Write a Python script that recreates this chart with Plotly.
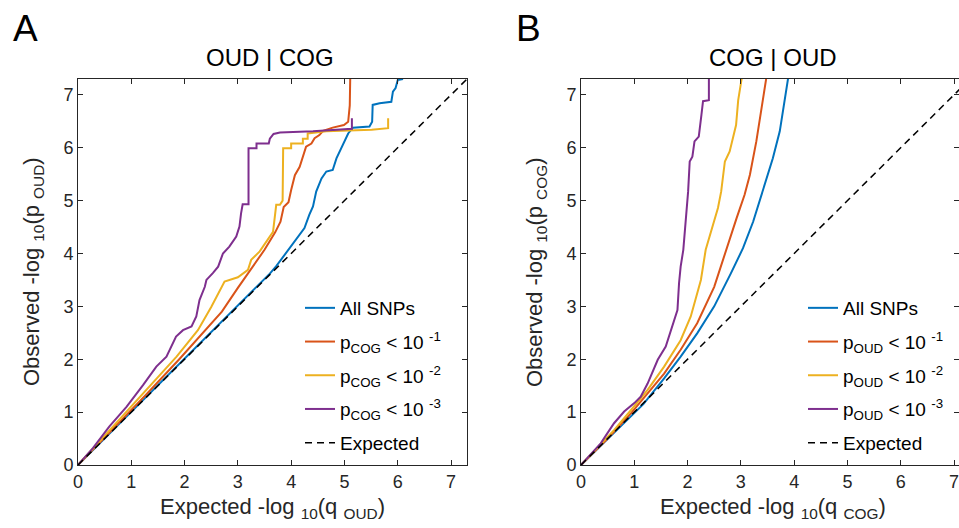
import plotly.graph_objects as go

# ---------------- data ----------------
# Panel A: OUD | COG
A_all_x = [0, 1.0, 2.0, 3.0, 3.6, 3.72, 3.97, 4.25, 4.34, 4.41, 4.47, 4.57, 4.66, 4.78, 4.85, 4.97, 5.07, 5.16, 5.47, 5.52, 5.53, 5.66, 5.88, 5.91, 5.96, 6.00, 6.10]
A_all_y = [0, 1.0, 2.0, 3.0, 3.62, 3.76, 4.10, 4.48, 4.73, 4.89, 5.17, 5.42, 5.55, 5.58, 5.80, 6.05, 6.27, 6.38, 6.40, 6.49, 6.81, 6.84, 6.87, 7.06, 7.13, 7.28, 7.30]

A_p1_x = [0, 0.6, 1.25, 1.9, 2.5, 2.7, 3.0, 3.28, 3.5, 3.7, 3.8, 3.86, 3.95, 4.0, 4.07, 4.16, 4.25, 4.28, 4.38, 4.44, 4.53, 4.6, 4.78, 4.99, 5.07, 5.10, 5.11]
A_p1_y = [0, 0.62, 1.3, 2.0, 2.68, 2.9, 3.35, 3.75, 4.07, 4.4, 4.6, 4.88, 4.97, 5.2, 5.48, 5.64, 5.93, 6.02, 6.08, 6.18, 6.24, 6.32, 6.38, 6.43, 6.49, 6.8, 7.4]

A_p2_x = [0, 0.6, 1.22, 1.85, 2.25, 2.5, 2.75, 3.0, 3.19, 3.25, 3.41, 3.56, 3.66, 3.72, 3.79, 3.84, 3.85, 4.0, 4.0, 4.22, 4.22, 4.31, 4.31, 4.66, 5.28, 5.51, 5.82, 5.82]
A_p2_y = [0, 0.66, 1.36, 2.05, 2.55, 2.99, 3.47, 3.55, 3.69, 3.88, 4.04, 4.26, 4.41, 4.92, 4.92, 5.0, 5.99, 5.99, 6.08, 6.08, 6.17, 6.17, 6.27, 6.31, 6.34, 6.34, 6.37, 6.56]

A_p3_x = [0, 0.28, 0.59, 0.91, 1.22, 1.47, 1.66, 1.84, 1.97, 2.13, 2.22, 2.28, 2.38, 2.41, 2.53, 2.63, 2.72, 2.84, 2.97, 3.03, 3.06, 3.09, 3.20, 3.20, 3.35, 3.35, 3.58, 3.60, 3.67, 3.79, 4.41, 5.14, 5.14]
A_p3_y = [0, 0.32, 0.73, 1.10, 1.51, 1.86, 2.05, 2.43, 2.55, 2.62, 2.81, 3.12, 3.37, 3.50, 3.63, 3.75, 4.00, 4.13, 4.32, 4.51, 4.76, 4.93, 4.93, 5.99, 5.99, 6.08, 6.08, 6.17, 6.26, 6.29, 6.31, 6.36, 6.56]

# Panel B: COG | OUD
B_all_x = [0, 0.54, 1.17, 1.56, 1.87, 2.18, 2.50, 2.81, 3.04, 3.23, 3.41, 3.60, 3.73, 3.82, 3.88, 3.90]
B_all_y = [0, 0.54, 1.15, 1.64, 2.05, 2.49, 3.0, 3.62, 4.10, 4.60, 5.17, 5.80, 6.31, 6.87, 7.3, 7.4]

B_p1_x = [0, 0.5, 0.94, 1.25, 1.56, 1.87, 2.18, 2.50, 2.73, 2.92, 3.07, 3.17, 3.29, 3.38, 3.45, 3.48, 3.49]
B_p1_y = [0, 0.5, 0.98, 1.36, 1.73, 2.18, 2.68, 3.37, 4.10, 4.67, 5.11, 5.49, 6.12, 6.68, 7.06, 7.3, 7.4]

B_p2_x = [0, 0.62, 0.94, 1.25, 1.56, 1.87, 2.06, 2.25, 2.34, 2.42, 2.57, 2.63, 2.70, 2.79, 2.91, 2.95, 2.98, 3.03]
B_p2_y = [0, 0.66, 1.04, 1.42, 1.86, 2.36, 2.81, 3.50, 4.07, 4.35, 4.86, 5.17, 5.74, 5.93, 6.43, 6.9, 7.12, 7.4]

B_p3_x = [0, 0.37, 0.62, 0.81, 1.0, 1.12, 1.25, 1.44, 1.59, 1.69, 1.75, 1.81, 1.84, 1.87, 1.92, 1.98, 2.01, 2.04, 2.09, 2.13, 2.21, 2.26, 2.29, 2.40, 2.40]
B_p3_y = [0, 0.41, 0.79, 1.01, 1.17, 1.29, 1.54, 1.99, 2.24, 2.55, 2.77, 2.93, 3.44, 3.75, 4.07, 4.73, 5.17, 5.74, 5.83, 6.12, 6.21, 6.62, 6.88, 6.90, 7.4]

expected_x = [0, 7.3]
expected_y = [0, 7.3]

tick_values = [0, 1, 2, 3, 4, 5, 6, 7]

A_names = ["All SNPs",
           "p<sub>COG</sub> < 10 <sup>-1</sup>",
           "p<sub>COG</sub> < 10 <sup>-2</sup>",
           "p<sub>COG</sub> < 10 <sup>-3</sup>",
           "Expected"]
B_names = ["All SNPs",
           "p<sub>OUD</sub> < 10 <sup>-1</sup>",
           "p<sub>OUD</sub> < 10 <sup>-2</sup>",
           "p<sub>OUD</sub> < 10 <sup>-3</sup>",
           "Expected"]

colors = ["#0072BD", "#D95319", "#EDB120", "#7E2F8E"]
FONT = "Liberation Sans, Arial, Helvetica, sans-serif"
TXT = "#262626"

fig = go.Figure()

A_series = [(A_all_x, A_all_y), (A_p1_x, A_p1_y), (A_p2_x, A_p2_y), (A_p3_x, A_p3_y)]
B_series = [(B_all_x, B_all_y), (B_p1_x, B_p1_y), (B_p2_x, B_p2_y), (B_p3_x, B_p3_y)]

for i, (xs, ys) in enumerate(A_series):
    fig.add_trace(go.Scatter(x=xs, y=ys, mode="lines", name=A_names[i],
                             line=dict(color=colors[i], width=2), legendgroup="a%d" % i,
                             xaxis="x", yaxis="y", legend="legend"))
fig.add_trace(go.Scatter(x=expected_x, y=expected_y, mode="lines", name=A_names[4],
                         line=dict(color="black", width=1.5, dash="7px,5px"), legendgroup="a4",
                         xaxis="x", yaxis="y", legend="legend"))

for i, (xs, ys) in enumerate(B_series):
    fig.add_trace(go.Scatter(x=xs, y=ys, mode="lines", name=B_names[i],
                             line=dict(color=colors[i], width=2), legendgroup="b%d" % i,
                             xaxis="x2", yaxis="y2", legend="legend2"))
fig.add_trace(go.Scatter(x=expected_x, y=expected_y, mode="lines", name=B_names[4],
                         line=dict(color="black", width=1.5, dash="7px,5px"), legendgroup="b4",
                         xaxis="x2", yaxis="y2", legend="legend2"))

W, H = 959, 528
# reference pixel positions of the plot areas
A_L, A_R, TOP, BOT = 78, 467, 79, 465
B_L, B_R = 581, 959
ML = A_L
MT = TOP
MB = H - BOT
MR = W - B_R
PW = W - ML - MR
PH = H - MT - MB

def px(xr):
    return (xr - ML) / PW

def py(yr):
    return (H - MB - yr) / PH

axis_common = dict(showline=True, linecolor=TXT, linewidth=1, mirror="ticks",
                   ticks="inside", ticklen=5, tickcolor=TXT, tickwidth=1,
                   showgrid=False, zeroline=False, ticklabeloverflow="allow",
                   tickfont=dict(family=FONT, size=18, color=TXT),
                   tickvals=tick_values, fixedrange=True)

unit_px = (A_R - A_L) / 7.3

leg_common = dict(xanchor="left", yanchor="top", bgcolor="rgba(0,0,0,0)", borderwidth=0,
                  tracegroupgap=6, font=dict(family=FONT, size=19, color="black"),
                  itemwidth=30)

fig.update_layout(
    width=W, height=H,
    margin=dict(l=ML, r=MR, t=MT, b=MB, pad=0),
    paper_bgcolor="white", plot_bgcolor="white",
    font=dict(family=FONT, color=TXT),
    xaxis=dict(domain=[0, px(A_R)], range=[0, 7.3], anchor="y", **axis_common),
    yaxis=dict(domain=[0, 1], range=[0, 7.3], anchor="x", **axis_common),
    xaxis2=dict(domain=[px(B_L), 1], range=[0, (B_R - B_L) / unit_px], anchor="y2", **axis_common),
    yaxis2=dict(domain=[0, 1], range=[0, 7.3], anchor="x2", **axis_common),
    legend=dict(x=px(300), y=py(289), **leg_common),
    legend2=dict(x=px(803), y=py(289), **leg_common),
    showlegend=True,
)

ann = []
def add_text(text, xr, yr, size, color="black", angle=0):
    ann.append(dict(text=text, x=px(xr), y=py(yr), xref="paper", yref="paper",
                    showarrow=False, xanchor="center", yanchor="middle", textangle=angle,
                    font=dict(family=FONT, size=size, color=color)))

add_text("OUD | COG", 270, 57, 24)
add_text("COG | OUD", 773, 57, 24)
add_text("A", 25, 29, 37)
add_text("B", 528, 29, 37)
add_text("Expected -log <sub>10</sub>(q <sub>OUD</sub>)", 272, 508, 22, TXT)
add_text("Expected -log <sub>10</sub>(q <sub>COG</sub>)", 773, 508, 22, TXT)
add_text("Observed -log <sub>10</sub>(p <sub>OUD</sub>)", 33, 272, 22, TXT, -90)
add_text("Observed -log <sub>10</sub>(p <sub>COG</sub>)", 536, 272, 22, TXT, -90)
fig.update_layout(annotations=ann)

fig.write_html("out.html", config={"displayModeBar": False},
               post_script="document.body.style.margin='0px';document.body.style.overflow='hidden';")
